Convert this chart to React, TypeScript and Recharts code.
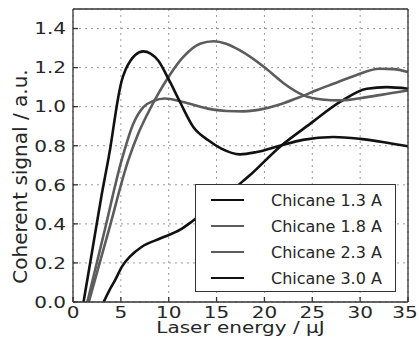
import React from 'react'
import { LineChart, Line, XAxis, YAxis, CartesianGrid, Legend, Label } from 'recharts'

// laser energy (uJ) vs coherent signal (a.u.)
const chicane13 = [
  [3.2, 0], [3.8, 0.06], [4.4, 0.112], [5.1, 0.18], [6, 0.235], [7.2, 0.283],
  [9.1, 0.325], [11.2, 0.37], [12.5, 0.415], [15, 0.51], [17.45, 0.606], [18.5, 0.65],
  [21.6, 0.794], [24.8, 0.913], [27.9, 1.024], [30.7, 1.092], [32.8, 1.1], [35, 1.092],
]
const chicane18 = [
  [1.65, 0], [3.7, 0.36], [5.78, 0.726], [6.8, 0.86], [7.7, 0.955], [8.9, 1.066],
  [9.96, 1.151], [11.5, 1.253], [13.27, 1.322], [14.7, 1.335], [16, 1.322], [17.45, 1.288],
  [20.2, 1.194], [22, 1.12], [24.1, 1.058], [26, 1.037], [27.9, 1.032], [30.7, 1.049],
  [33, 1.067], [35, 1.083],
]
const chicane23 = [
  [1.5, 0], [3.3, 0.365], [5.08, 0.726], [6.3, 0.913], [7.35, 0.998], [8.4, 1.029],
  [9.6, 1.042], [11.5, 1.024], [14.1, 0.99], [16, 0.978], [17.8, 0.976], [20, 0.99],
  [22, 1.018], [23.7, 1.049], [25.5, 1.085], [27.2, 1.117], [29.5, 1.16], [32, 1.194],
  [33.5, 1.192], [35, 1.177],
]
const chicane30 = [
  [1.1, 0], [2, 0.26], [3, 0.55], [3.9, 0.79], [4.56, 1.0], [4.85, 1.08], [5.1, 1.135],
  [5.5, 1.19], [6, 1.235], [6.5, 1.265], [7.35, 1.283], [8.1, 1.272], [8.9, 1.236],
  [9.96, 1.143], [11.18, 1.024], [12.57, 0.896], [14.14, 0.828], [15.5, 0.785],
  [17.45, 0.756], [19.2, 0.768], [21.6, 0.8], [24, 0.83], [27.2, 0.845], [30, 0.835],
  [32.5, 0.818], [35, 0.797],
]

const xTicks = [0, 5, 10, 15, 20, 25, 30, 35]
const yTicks = [0, 0.2, 0.4, 0.6, 0.8, 1.0, 1.2, 1.4]

const BLACK = '#111'
const GRAY = '#5c5c5c'
const INK = '#262626'
const FONT = '"DejaVu Sans", sans-serif'

const toPoints = (pairs: number[][]) => pairs.map(([x, y]) => ({ x, y }))

const series = [
  { name: 'Chicane 1.3 A', data: toPoints(chicane13), color: BLACK },
  { name: 'Chicane 1.8 A', data: toPoints(chicane18), color: GRAY },
  { name: 'Chicane 2.3 A', data: toPoints(chicane23), color: GRAY },
  { name: 'Chicane 3.0 A', data: toPoints(chicane30), color: BLACK },
]

function XTick({ x, y, payload }: any) {
  // the last label sits on the page edge; keep it inside
  const cx = Math.min(x, 405)
  return (
    <g transform={`translate(${cx},${y}) scale(1,0.8)`}>
      <text textAnchor="middle" dy="0.73em" fontSize={20} fill={INK} fontFamily={FONT}>
        {payload.value}
      </text>
    </g>
  )
}

function YTick({ x, y, payload }: any) {
  return (
    <g transform={`translate(${x},${y}) scale(1,0.8)`}>
      <text textAnchor="end" dy="0.36em" fontSize={20} fill={INK} fontFamily={FONT}>
        {Number(payload.value).toFixed(1)}
      </text>
    </g>
  )
}

function XLabel({ viewBox }: any) {
  const cx = viewBox.x + viewBox.width / 2
  return (
    <g transform={`translate(${cx},${viewBox.y + 31}) scale(1,0.78)`}>
      <text textAnchor="middle" fontSize={20} fill={INK} fontFamily={FONT}>
        Laser energy / μJ
      </text>
    </g>
  )
}

function YLabel({ viewBox }: any) {
  const cy = viewBox.y + viewBox.height / 2 + 21
  return (
    <text
      transform={`translate(27,${cy}) rotate(-90)`}
      textAnchor="middle"
      fontSize={20}
      fill={INK}
      fontFamily={FONT}
    >
      Coherent signal / a.u.
    </text>
  )
}

function LegendBox({ payload }: any) {
  return (
    <div
      style={{
        boxSizing: 'border-box', width: 201, height: 108, border: '1.5px solid #333',
        background: '#fff', paddingTop: 2, fontFamily: FONT,
      }}
    >
      {(payload || []).map((entry: any) => (
        <div key={entry.value} style={{ display: 'flex', alignItems: 'center', height: 26 }}>
          <span style={{ marginLeft: 15, width: 33, borderTop: `2.6px solid ${entry.color}` }} />
          <span style={{ marginLeft: 27, fontSize: 16, color: INK }}>{entry.value}</span>
        </div>
      ))}
    </div>
  )
}

export default function App() {
  return (
    <div>
      <style>{'body{margin:0;background:#fff}'}</style>
      <LineChart width={419} height={345} margin={{ top: 8, right: 10, bottom: 13, left: 13 }}>
        <CartesianGrid stroke="#9a9a9a" strokeDasharray="2 4" />
        <XAxis
          type="number" dataKey="x" domain={[0, 35]} ticks={xTicks} allowDataOverflow
          height={30} stroke="#333" strokeWidth={1.3} tickSize={-5} tickMargin={9} tick={<XTick />}
        >
          <Label content={<XLabel />} />
        </XAxis>
        <XAxis
          xAxisId="top" orientation="top" type="number" dataKey="x" domain={[0, 35]} ticks={xTicks}
          height={1} stroke="#333" strokeWidth={1.3} tickSize={-5} tick={false}
        />
        <YAxis
          type="number" domain={[0, 1.5]} ticks={yTicks} allowDataOverflow
          width={60} stroke="#333" strokeWidth={1.3} tickSize={-5} tickMargin={12} tick={<YTick />}
        >
          <Label content={<YLabel />} />
        </YAxis>
        <YAxis
          yAxisId="right" orientation="right" type="number" domain={[0, 1.5]} ticks={yTicks}
          width={1} stroke="#333" strokeWidth={1.3} tickSize={-5} tick={false}
        />
        {series.map((s) => (
          <Line
            key={s.name}
            name={s.name}
            data={s.data}
            dataKey="y"
            type="monotone"
            stroke={s.color}
            strokeWidth={2.6}
            dot={false}
            activeDot={false}
            isAnimationActive={false}
          />
        ))}
        <Legend
          layout="vertical"
          align="center"
          verticalAlign="middle"
          content={<LegendBox />}
          wrapperStyle={{ left: 195, top: 184, width: 201, height: 108 }}
        />
      </LineChart>
    </div>
  )
}
